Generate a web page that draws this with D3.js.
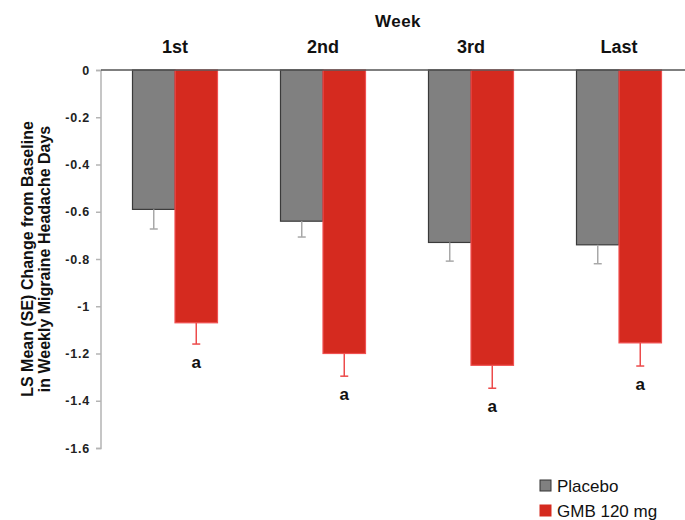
<!DOCTYPE html>
<html><head><meta charset="utf-8">
<script src="https://cdn.jsdelivr.net/npm/d3@7"></script>
<style>body{margin:0;background:#fff}svg{display:block}text{font-family:"Liberation Sans",Arial,sans-serif}</style>
</head><body><svg id="c" width="685" height="520"></svg>
<script>
const weeks = ["1st","2nd","3rd","Last"];
const seriesNames = ["Placebo","GMB 120 mg"];
const placeboMean = [-0.59,-0.64,-0.73,-0.74];
const placeboSE = [0.083,0.067,0.079,0.080];
const gmbMean = [-1.07,-1.20,-1.25,-1.155];
const gmbSE = [0.090,0.096,0.097,0.098];
const sigLabels = ["a","a","a","a"];
const yTicks = [0,-0.2,-0.4,-0.6,-0.8,-1,-1.2,-1.4,-1.6];
const yTickLabels = ["0","-0.2","-0.4","-0.6","-0.8","-1","-1.2","-1.4","-1.6"];

const fills = {"Placebo":"#808080","GMB 120 mg":"#d52a1f"};
const strokes = {"Placebo":"#3a3a3a","GMB 120 mg":"#f05050"};
const errCol = {"Placebo":"#a8a8a8","GMB 120 mg":"#ec4b4b"};

const svg = d3.select("#c");
const x0 = d3.scaleBand().domain(weeks).range([101,693]).padding(0);
const x1 = d3.scaleBand().domain(seriesNames).range([0,x0.bandwidth()]).paddingInner(0).paddingOuter(0.741);
const y = d3.scaleLinear().domain([-1.6,0]).range([448,70]);

const rows = [];
weeks.forEach((w,i)=>{
  rows.push({w,s:"Placebo",m:placeboMean[i],se:placeboSE[i]});
  rows.push({w,s:"GMB 120 mg",m:gmbMean[i],se:gmbSE[i],sig:sigLabels[i]});
});

// y axis
const yAxis = d3.axisLeft(y).tickValues(yTicks).tickFormat((d,i)=>yTickLabels[i]).tickSize(5).tickPadding(6);
const ga = svg.append("g").attr("transform","translate(101,0)").call(yAxis);
ga.selectAll("path,line").attr("stroke","#b4b4b4").attr("stroke-width",1.5);
ga.select(".domain").attr("d","M-5,70.5H0V448.5H-5");
ga.selectAll("text").attr("font-size",12.5).attr("font-weight","bold").attr("fill","#222")
  .attr("letter-spacing","0.8px").attr("font-family","Liberation Sans, Arial, sans-serif");

// bars
const g = svg.append("g");
g.selectAll("rect").data(rows).join("rect")
  .attr("x",d=>x0(d.w)+x1(d.s))
  .attr("y",y(0))
  .attr("width",x1.bandwidth())
  .attr("height",d=>y(d.m)-y(0))
  .attr("fill",d=>fills[d.s])
  .attr("stroke",d=>strokes[d.s]).attr("stroke-width",1.2);

// error bars
const eb = g.selectAll("g.err").data(rows).join("g").attr("class","err");
eb.append("line")
  .attr("x1",d=>x0(d.w)+x1(d.s)+x1.bandwidth()/2).attr("x2",d=>x0(d.w)+x1(d.s)+x1.bandwidth()/2)
  .attr("y1",d=>y(d.m)).attr("y2",d=>y(d.m-d.se))
  .attr("stroke",d=>errCol[d.s]).attr("stroke-width",1.5);
eb.append("line")
  .attr("x1",d=>x0(d.w)+x1(d.s)+x1.bandwidth()/2-4).attr("x2",d=>x0(d.w)+x1(d.s)+x1.bandwidth()/2+4)
  .attr("y1",d=>y(d.m-d.se)).attr("y2",d=>y(d.m-d.se))
  .attr("stroke",d=>errCol[d.s]).attr("stroke-width",1.5);

// significance labels
g.selectAll("text.sig").data(rows.filter(d=>d.sig)).join("text").attr("class","sig")
  .attr("x",d=>x0(d.w)+x1(d.s)+x1.bandwidth()/2)
  .attr("y",d=>y(d.m-d.se)+24)
  .attr("text-anchor","middle").attr("font-size",17).attr("font-weight","bold").attr("fill","#111")
  .text(d=>d.sig);

// zero line
svg.append("line").attr("x1",101).attr("x2",685).attr("y1",y(0)).attr("y2",y(0))
  .attr("stroke","#555").attr("stroke-width",1.5);

// top labels
svg.append("text").attr("x",398).attr("y",27).attr("text-anchor","middle")
  .attr("font-size",17).attr("font-weight","bold").attr("fill","#111").attr("letter-spacing","0.5px").text("Week");
svg.selectAll("text.wk").data(weeks).join("text").attr("class","wk")
  .attr("x",d=>x0(d)+x0.bandwidth()/2).attr("y",53).attr("text-anchor","middle")
  .attr("font-size",18).attr("font-weight","bold").attr("fill","#111").text(d=>d);

// y title
const yt = svg.append("text").attr("transform","translate(0,259) rotate(-90)")
  .attr("text-anchor","middle").attr("font-size",16).attr("font-weight","bold").attr("fill","#111");
yt.append("tspan").attr("x",0).attr("y",33).text("LS Mean (SE) Change from Baseline");
yt.append("tspan").attr("x",0).attr("y",50).text("in Weekly Migraine Headache Days");

// legend
const lg = svg.selectAll("g.lg").data(seriesNames).join("g").attr("class","lg")
  .attr("transform",(d,i)=>`translate(540,${480+i*25})`);
lg.append("rect").attr("width",11).attr("height",11)
  .attr("fill",d=>fills[d]).attr("stroke",d=>d==="Placebo"?"#333":fills[d]).attr("stroke-width",1);
lg.append("text").attr("x",17).attr("y",12).attr("font-size",17).attr("fill","#111").text(d=>d);
</script></body></html>
